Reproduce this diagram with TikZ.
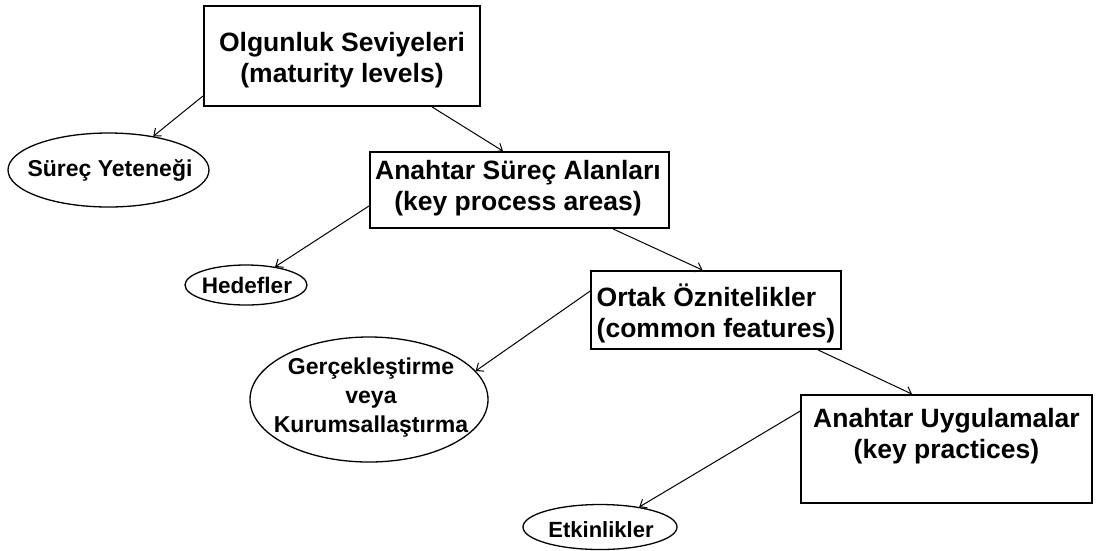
\documentclass[tikz,border=0pt]{standalone}
\usepackage{fontspec}
\setmainfont{Liberation Sans}
\usetikzlibrary{shapes.geometric,arrows.meta}

\begin{document}
\begin{tikzpicture}[x=1pt,y=-1pt,
  rect/.style={draw, line width=1.8pt, inner sep=0pt},
  oval/.style={draw, ellipse, line width=1.3pt, inner sep=0pt},
  boxtext/.style={inner sep=0pt, align=center, font=\bfseries\fontsize{26.5}{31}\selectfont},
  ovaltext/.style={inner sep=0pt, align=center, font=\bfseries\fontsize{23}{29}\selectfont},
  link/.style={line width=1pt, -{Straight Barb[length=6pt,width=10pt]}}]
\useasboundingbox (0,0) rectangle (1097,550);
\fill[white] (0,0) rectangle (1097,550);

% levels of the model (boxes)
\node[rect, minimum width=276pt, minimum height=100pt] (b1) at (342,56) {};
\node[boxtext] (b1t) at (342,59.7) {Olgunluk Seviyeleri\\(maturity levels)};

\node[rect, minimum width=299pt, minimum height=76pt] (b2) at (519.5,190) {};
\node[boxtext] (b2t) at (518,188.6) {Anahtar Süreç Alanları\\(key process areas)};

\node[rect, minimum width=250pt, minimum height=78pt] (b3) at (716,310) {};
\node[boxtext, align=left] (b3t) at (716,313) {Ortak Öznitelikler\\(common features)};

\node[rect, minimum width=291pt, minimum height=108pt] (b4) at (946.5,449) {};
\node[boxtext] (b4t) at (946.5,436.6) {Anahtar Uygulamalar\\(key practices)};

% what each level contains (ovals)
\node[oval, minimum width=201pt, minimum height=74pt] (s1) at (108.5,170) {};
\node[ovaltext] (s1t) at (110,170) {Süreç Yeteneği};

\node[oval, minimum width=122pt, minimum height=40pt] (h) at (246,285) {};
\node[ovaltext, font=\bfseries\fontsize{22.5}{29}\selectfont] (ht) at (247,285) {Hedefler};

\node[oval, minimum width=238pt, minimum height=125pt] (g) at (369,399.5) {};
\node[ovaltext] (gt) at (371,397.5) {Gerçekleştirme\\veya\\Kurumsallaştırma};

\node[oval, minimum width=154pt, minimum height=45pt] (e) at (600,527) {};
\node[ovaltext, font=\bfseries\fontsize{22}{29}\selectfont] (et) at (601,530) {Etkinlikler};

% connectors
\draw[link] ([yshift=11pt]b1.south west) -- (s1.37);
\draw[link] ([xshift=90pt]b1.south) -- ([xshift=-16.5pt]b2.north);
\draw[link] ([yshift=23pt]b2.south west) -- (h.32);
\draw[link] ([xshift=93.5pt]b2.south) -- ([xshift=-13.5pt]b3.north);
\draw[link] ([yshift=-21pt]b3.north west) -- (g.15);
\draw[link] ([xshift=102pt]b3.south) -- ([xshift=-34.5pt]b4.north);
\draw[link] ([yshift=-17pt]b4.north west) -- (e.27);
\end{tikzpicture}
\end{document}
